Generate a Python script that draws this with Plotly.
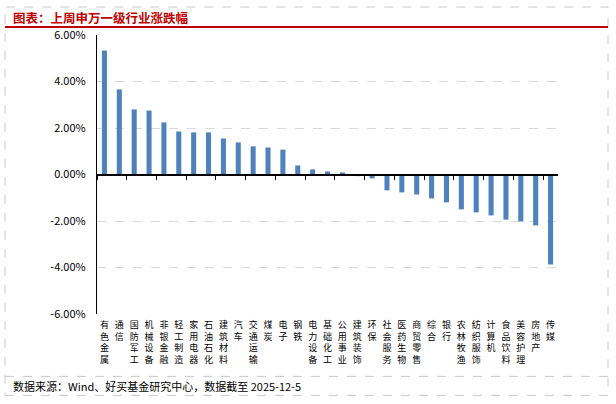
import plotly.graph_objects as go

categories = ["有色金属", "通信", "国防军工", "机械设备", "非银金融", "轻工制造", "家用电器",
              "石油石化", "建筑材料", "汽车", "交通运输", "煤炭", "电子", "钢铁", "电力设备",
              "基础化工", "公用事业", "建筑装饰", "环保", "社会服务", "医药生物", "商贸零售",
              "综合", "银行", "农林牧渔", "纺织服饰", "计算机", "食品饮料", "美容护理", "房地产", "传媒"]
values = [5.33, 3.66, 2.80, 2.75, 2.24, 1.85, 1.81, 1.81, 1.55, 1.38, 1.21, 1.16, 1.07, 0.39, 0.22,
          0.13, 0.09, -0.07, -0.17, -0.68, -0.77, -0.86, -1.03, -1.20, -1.50, -1.63, -1.76, -1.94,
          -2.02, -2.19, -3.87]
y_ticks = [-6, -4, -2, 0, 2, 4, 6]
y_tick_labels = ["-6.00%", "-4.00%", "-2.00%", "0.00%", "2.00%", "4.00%", "6.00%"]

title_text = "图表：上周申万一级行业涨跌幅"
source_text = "数据来源：Wind、好买基金研究中心，数据截至 2025-12-5"

FONT = "Noto Sans CJK SC, Microsoft YaHei, sans-serif"
W, H = 616, 404
L, R, T, B = 97, 558, 35, 314.5

def xp(px):
    return (px - L) / (R - L)

def yp(py):
    return (B - py) / (B - T)

vertical_labels = ["<br>".join(list(c)) for c in categories]

fig = go.Figure()
fig.add_trace(go.Bar(x=vertical_labels, y=values, marker_color="#4F81BD",
                     marker_line_width=0, hoverinfo="x+y"))
fig.add_trace(go.Scatter(x=vertical_labels, y=values, xaxis="x2", mode="markers",
                         marker=dict(opacity=0), hoverinfo="skip", showlegend=False))

grey = "#c8c8c8"
shapes = [
    dict(type="rect", xref="paper", yref="paper", x0=xp(5), x1=xp(608), y0=yp(396), y1=yp(7),
         line=dict(color=grey, width=1, dash="dash")),
    dict(type="line", xref="paper", yref="paper", x0=xp(5), x1=xp(608), y0=yp(27), y1=yp(27),
         line=dict(color="#c00000", width=2)),
    dict(type="line", xref="paper", yref="paper", x0=xp(5), x1=xp(608), y0=yp(377), y1=yp(377),
         line=dict(color=grey, width=1, dash="dash")),
]

annotations = [
    dict(text="<b>" + title_text + "</b>", xref="paper", yref="paper", x=xp(11), y=yp(17),
         xanchor="left", yanchor="middle", showarrow=False,
         font=dict(family=FONT, size=12.5, color="#c00000")),
    dict(text=source_text, xref="paper", yref="paper", x=xp(11), y=yp(387),
         xanchor="left", yanchor="middle", showarrow=False,
         font=dict(family=FONT, size=11, color="#000000")),
]

fig.update_layout(
    width=W, height=H,
    margin=dict(l=L, r=W - R, t=T, b=H - B, pad=0),
    paper_bgcolor="white", plot_bgcolor="rgba(0,0,0,0)",
    showlegend=False, bargap=0.66,
    font=dict(family=FONT, size=11, color="#000000"),
    shapes=shapes, annotations=annotations,
    xaxis=dict(type="category", showline=False, ticks="", showgrid=False, zeroline=False,
               tickangle=0, tickfont=dict(family=FONT, size=9, color="#000000"),
               ticklabelstandoff=4,
               range=[-0.5, len(categories) - 0.5], fixedrange=True, automargin=False),
    xaxis2=dict(type="category", overlaying="x", anchor="free", position=0.5,
                showline=True, linecolor="#000000", linewidth=1.5,
                ticks="outside", ticklen=5, tickwidth=1, tickcolor="#000000",
                tickson="boundaries", showticklabels=False, showgrid=False, zeroline=False,
                range=[-0.5, len(categories) - 0.5]),
    yaxis=dict(range=[-6, 6], tickvals=y_ticks, ticktext=y_tick_labels,
               showline=True, linecolor="#000000", linewidth=1.2, ticks="",
               showgrid=True, gridcolor="#d9d9d9", griddash="dash", gridwidth=1,
               zeroline=False, tickfont=dict(family=FONT, size=11, color="#000000"),
               ticklabelstandoff=8, automargin=False),
)

fig.write_html("out.html", config={"displayModeBar": False},
               post_script="document.body.style.margin='0';document.body.style.padding='0';")
